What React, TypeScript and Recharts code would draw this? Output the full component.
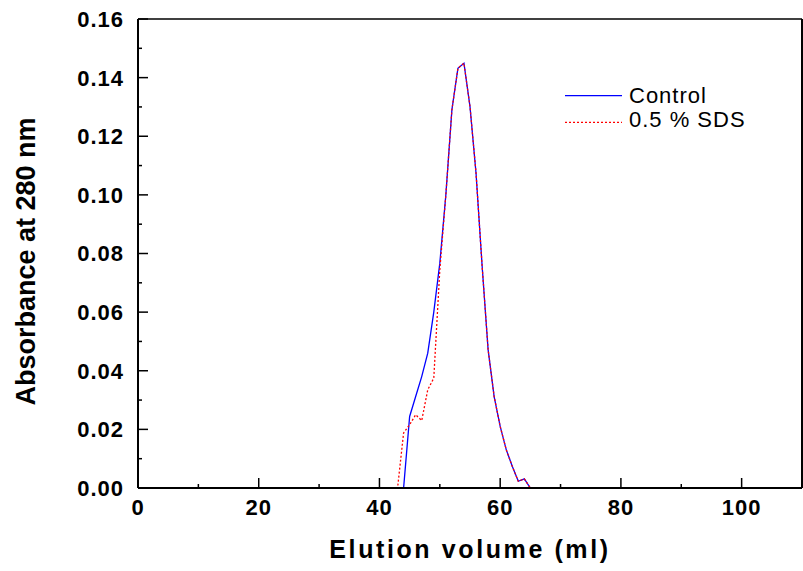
import React from 'react';
import { LineChart, Line, XAxis, YAxis, ReferenceLine, Legend } from 'recharts';

// elution volume (ml) and absorbance at 280 nm
const elutionVolume = [1, 43, 44, 45, 46, 47, 48, 49, 50, 51, 52, 53, 54, 55, 56, 57, 58, 59, 60, 61, 62, 63, 64, 65, 100];
const control = [0, 0, 0, 0.0244, 0.0312, 0.038, 0.046, 0.06, 0.0767, 0.1, 0.129, 0.1432, 0.1449, 0.1301, 0.1074, 0.076, 0.0472, 0.0312, 0.021, 0.0131, 0.0074, 0.0023, 0.0031, 0, 0];
const sds = [0, 0, 0.0188, 0.0216, 0.025, 0.023, 0.0335, 0.0375, 0.0744, 0.1, 0.129, 0.1432, 0.1449, 0.1301, 0.1074, 0.076, 0.0472, 0.0312, 0.021, 0.0131, 0.0074, 0.0023, 0.0031, 0, 0];

const xTicks = [0, 10, 20, 30, 40, 50, 60, 70, 80, 90, 100];
const yTicks = [0, 0.01, 0.02, 0.03, 0.04, 0.05, 0.06, 0.07, 0.08, 0.09, 0.1, 0.11, 0.12, 0.13, 0.14, 0.15, 0.16];
const seriesOrder = ['control', 'sds'];

const data = elutionVolume.map((x, i) => ({ x, control: control[i], sds: sds[i] }));

const FONT = '"Liberation Sans", Arial, sans-serif';

const XTick = (props: any) => {
  const { x, y, payload } = props;
  const major = payload.value % 20 === 0;
  return (
    <g>
      <line x1={x} x2={x} y1={y} y2={y - (major ? 10 : 4)} stroke="#000" strokeWidth={1.5} />
      {major && (
        <text x={x} y={y + 27} textAnchor="middle" fontFamily={FONT} fontWeight="bold" fontSize={22} letterSpacing={1} fill="#000">
          {payload.value}
        </text>
      )}
    </g>
  );
};

const YTick = (props: any) => {
  const { x, y, payload } = props;
  const major = Math.round(payload.value * 100) % 2 === 0;
  return (
    <g>
      <line x1={x} x2={x + (major ? 10 : 4)} y1={y} y2={y} stroke="#000" strokeWidth={1.5} />
      {major && (
        <text x={x - 14} y={y} dy="0.36em" textAnchor="end" fontFamily={FONT} fontWeight="bold" fontSize={22} letterSpacing={1} fill="#000">
          {payload.value.toFixed(2)}
        </text>
      )}
    </g>
  );
};

const renderLegend = (props: any) => {
  const items = [...(props.payload || [])].sort(
    (a: any, b: any) => seriesOrder.indexOf(a.dataKey) - seriesOrder.indexOf(b.dataKey)
  );
  return (
    <svg width={200} height={60}>
      {items.map((entry: any, i: number) => {
        const cy = 15.7 + i * 26.6;
        return (
          <g key={entry.value}>
            <line x1={5} x2={62} y1={cy} y2={cy} stroke={entry.color} strokeWidth={1.3}
              strokeDasharray={entry.payload?.strokeDasharray} />
            <text x={69} y={23 + i * 24} fontFamily={FONT} fontSize={22} letterSpacing={1} fill="#000">
              {entry.value}
            </text>
          </g>
        );
      })}
    </svg>
  );
};

const App: React.FC = () => {
  return (
    <div style={{ position: 'absolute', left: 0, top: 0, width: 803, height: 571, background: '#fff' }}>
      <LineChart width={803} height={571} data={data} margin={{ top: 19, right: 1, bottom: 82, left: 137 }}>
        <XAxis
          dataKey="x"
          type="number"
          domain={[0, 110]}
          ticks={xTicks}
          height={1}
          tickSize={0}
          tickMargin={0}
          tickLine={false}
          tick={XTick}
          interval={0}
          axisLine={{ stroke: '#000', strokeWidth: 2 }}
        />
        <YAxis
          type="number"
          domain={[0, 0.16]}
          ticks={yTicks}
          width={1}
          tickSize={0}
          tickMargin={0}
          tickLine={false}
          tick={YTick}
          interval={0}
          axisLine={{ stroke: '#000', strokeWidth: 2 }}
        />
        <ReferenceLine y={0.16} stroke="#000" strokeWidth={1.5} />
        <ReferenceLine x={110} stroke="#000" strokeWidth={2} />
        <Line
          type="linear"
          dataKey="control"
          name="Control"
          stroke="#0000ff"
          strokeWidth={1.3}
          dot={false}
          isAnimationActive={false}
        />
        <Line
          type="linear"
          dataKey="sds"
          name="0.5 % SDS"
          stroke="#ff0000"
          strokeWidth={1.3}
          strokeDasharray="2 2"
          dot={false}
          isAnimationActive={false}
        />
        <Legend
          layout="horizontal"
          verticalAlign="middle"
          align="center"
          content={renderLegend}
          wrapperStyle={{ position: 'absolute', top: 80, left: 560, width: 200, height: 60 }}
        />
      </LineChart>
      <svg width={803} height={571} style={{ position: 'absolute', left: 0, top: 0, pointerEvents: 'none' }}>
        <text x={470} y={558} textAnchor="middle" fontFamily={FONT} fontWeight="bold" fontSize={25} letterSpacing={2.6} fill="#000">
          Elution volume (ml)
        </text>
        <text transform="translate(35, 261.5) rotate(-90)" textAnchor="middle" fontFamily={FONT} fontWeight="bold" fontSize={27} fill="#000">
          Absorbance at 280 nm
        </text>
      </svg>
    </div>
  );
};

export default App;
